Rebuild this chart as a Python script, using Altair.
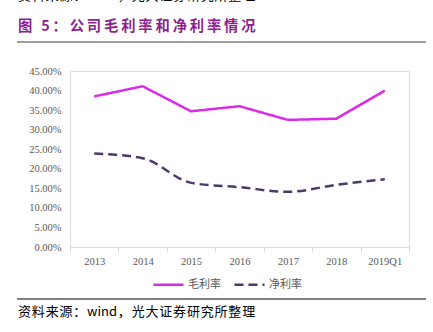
import altair as alt
import pandas as pd

years = ["2013", "2014", "2015", "2016", "2017", "2018", "2019Q1"]
gross = [0.385, 0.411, 0.347, 0.360, 0.325, 0.328, 0.400]
net = [0.239, 0.227, 0.164, 0.153, 0.141, 0.159, 0.173]
series = ["毛利率", "净利率"]

rows = []
for y, g, n in zip(years, gross, net):
    rows.append({"year": y, "series": series[0], "value": g})
    rows.append({"year": y, "series": series[1], "value": n})
df = pd.DataFrame(rows)

W, H = 339, 176
serif = "Liberation Serif"
cjk = "Noto Sans CJK SC"
THIN = "\u2009"
HAIR = "\u200a"

title_txt = THIN.join("图 5：公司毛利率和净利率情况")
src_raw = "资料来源：wind，光大证券研究所整理"
src_txt = ""
for i, ch in enumerate(src_raw):
    src_txt += ch
    if i < len(src_raw) - 1 and not (ch.isascii() and src_raw[i + 1].isascii()):
        src_txt += HAIR

x_enc = alt.X("year:N", sort=years,
              scale=alt.Scale(type="band", paddingInner=0, paddingOuter=0),
              axis=alt.Axis(title=None, labelAngle=0, labelFont=serif, labelFontSize=10.5,
                            labelColor="#595959", domainColor="#D9D9D9", tickColor="#D9D9D9",
                            tickSize=5, tickBand="extent", labelPadding=4, grid=False))
y_enc = alt.Y("value:Q", scale=alt.Scale(domain=[0, 0.45]),
              axis=alt.Axis(title=None, format=".2%", values=[i * 0.05 for i in range(10)],
                            labelFont=serif, labelFontSize=10.5, labelColor="#595959",
                            domain=False, ticks=False, grid=False, labelPadding=9))
leg = dict(title=None, orient="none", legendX=82, legendY=197,
           direction="horizontal", symbolType="stroke",
           symbolSize=900, symbolStrokeWidth=2.5,
           labelFont=cjk, labelFontSize=11, labelColor="#595959",
           columnPadding=8, labelOffset=3)
color = alt.Color("series:N", scale=alt.Scale(domain=series, range=["#D92BE8", "#4B3A6B"]),
                  legend=alt.Legend(**leg))
dash = alt.StrokeDash("series:N", scale=alt.Scale(domain=series, range=[[1, 0], [9, 5]]),
                      legend=alt.Legend(**leg))

base = alt.Chart(df)
gross_line = base.transform_filter(alt.datum.series == series[0]).mark_line(
    strokeWidth=2.5).encode(x=x_enc, y=y_enc, color=color, strokeDash=dash)
net_line = base.transform_filter(alt.datum.series == series[1]).mark_line(
    strokeWidth=2.5, interpolate="monotone").encode(x=x_enc, y=y_enc, color=color, strokeDash=dash)

deco = alt.Chart(alt.Data(values=[{}]))
top_rule = deco.mark_rule(color="#808080", strokeWidth=1.5).encode(
    x=alt.value(-53), x2=alt.value(356), y=alt.value(-29))
bot_rule = deco.mark_rule(color="#000000", strokeWidth=1).encode(
    x=alt.value(-53), x2=alt.value(356), y=alt.value(228))
title = deco.mark_text(text=title_txt, align="left", baseline="middle",
                       font=cjk, fontSize=14.3, fontWeight="bold", color="#8E1F8E").encode(
    x=alt.value(-52), y=alt.value(-44))
src = deco.mark_text(text=src_txt, align="left", baseline="middle",
                     font=cjk, fontSize=13, color="#000000").encode(
    x=alt.value(-52), y=alt.value(241))
src_top = deco.mark_text(text=src_txt, align="left", baseline="middle",
                         font=cjk, fontSize=13, color="#000000").encode(
    x=alt.value(-52), y=alt.value(-75))

chart = alt.layer(gross_line, net_line, top_rule, bot_rule, title, src, src_top).properties(
    width=W, height=H,
    autosize=alt.AutoSizeParams(type="none"),
    padding={"left": 70, "top": 71, "right": 24, "bottom": 85},
).configure_view(stroke=None).configure(background="white")

chart.save("out.html", embed_options={"renderer": "svg", "actions": False})
